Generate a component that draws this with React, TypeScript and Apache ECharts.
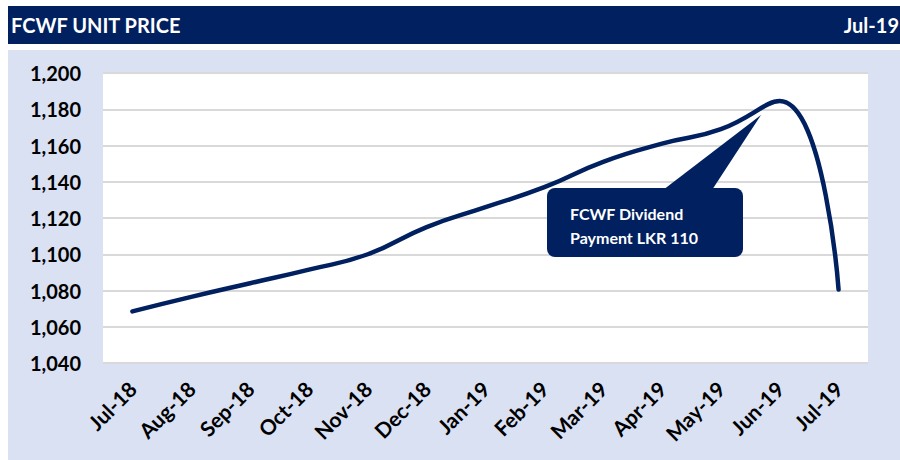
import React, { useEffect, useRef } from "react";
import * as echarts from "echarts";

const categories = ["Jul-18", "Aug-18", "Sep-18", "Oct-18", "Nov-18", "Dec-18", "Jan-19", "Feb-19", "Mar-19", "Apr-19", "May-19", "Jun-19", "Jul-19"];
const unitPrice = [1068.5, 1076.5, 1084, 1091.5, 1100, 1115, 1126, 1137, 1151, 1161, 1169, 1184.5, 1080.5];
const yMin = 1040;
const yMax = 1200;
const yStep = 20;
const titleText = "FCWF UNIT PRICE";
const dateText = "Jul-19";
const calloutLines = ["FCWF Dividend", "Payment LKR 110"];

const NAVY = "#002060";
const PANEL = "#dae1f3";
const FONT = "Lato, 'Open Sans', sans-serif";

export default function App() {
  const ref = useRef<HTMLDivElement>(null);
  useEffect(() => {
    if (!ref.current) return;
    const chart = echarts.init(ref.current, undefined, { renderer: "svg" });
    chart.setOption({
      animation: false,
      backgroundColor: "#ffffff",
      textStyle: { fontFamily: FONT },
      grid: {
        left: 103,
        top: 73,
        right: 32,
        bottom: 97,
        show: true,
        backgroundColor: "#ffffff",
        borderWidth: 0,
        containLabel: false,
      },
      xAxis: {
        type: "category",
        data: categories,
        boundaryGap: true,
        axisLine: { show: false },
        axisTick: { show: false },
        axisLabel: {
          interval: 0,
          rotate: 45,
          margin: 22,
          color: "#000",
          fontWeight: "bold",
          fontSize: 21,
          fontFamily: FONT,
        },
      },
      yAxis: {
        type: "value",
        min: yMin,
        max: yMax,
        interval: yStep,
        axisLine: { show: false },
        axisTick: { show: false },
        axisLabel: {
          margin: 22,
          color: "#000",
          fontWeight: "bold",
          fontSize: 20,
          fontFamily: FONT,
          formatter: (v: number) => v.toLocaleString("en-US"),
        },
        splitLine: { lineStyle: { color: "#d9d9d9", width: 2 } },
      },
      series: [
        {
          type: "line",
          data: unitPrice,
          smooth: 0.5,
          symbol: "none",
          lineStyle: { color: NAVY, width: 4.5, cap: "round" },
          z: 5,
        },
      ],
      graphic: [
        { type: "rect", z: -10, shape: { x: 8, y: 6, width: 892, height: 38 }, style: { fill: NAVY } },
        { type: "rect", z: -10, shape: { x: 8, y: 50, width: 892, height: 410 }, style: { fill: PANEL } },
        {
          type: "text",
          x: 11,
          y: 25,
          style: { text: titleText, fill: "#fff", font: `bold 20px ${FONT}`, verticalAlign: "middle" },
        },
        {
          type: "text",
          x: 899,
          y: 25,
          style: { text: dateText, fill: "#fff", font: `bold 20px ${FONT}`, align: "right", verticalAlign: "middle" },
        },
        {
          type: "polygon",
          z: 10,
          shape: { points: [[663, 190], [712, 190], [761, 115]] },
          style: { fill: NAVY },
        },
        {
          type: "rect",
          z: 10,
          shape: { x: 547, y: 188, width: 196, height: 69, r: 8 },
          style: { fill: NAVY },
        },
        {
          type: "text",
          z: 11,
          x: 570,
          y: 213,
          style: { text: calloutLines[0], fill: "#fff", font: `bold 16px ${FONT}`, verticalAlign: "middle" },
        },
        {
          type: "text",
          z: 11,
          x: 570,
          y: 237,
          style: { text: calloutLines[1], fill: "#fff", font: `bold 16px ${FONT}`, verticalAlign: "middle" },
        },
      ],
    });
    return () => chart.dispose();
  }, []);
  return <div ref={ref} style={{ position: "fixed", left: 0, top: 0, width: 900, height: 460 }} />;
}
